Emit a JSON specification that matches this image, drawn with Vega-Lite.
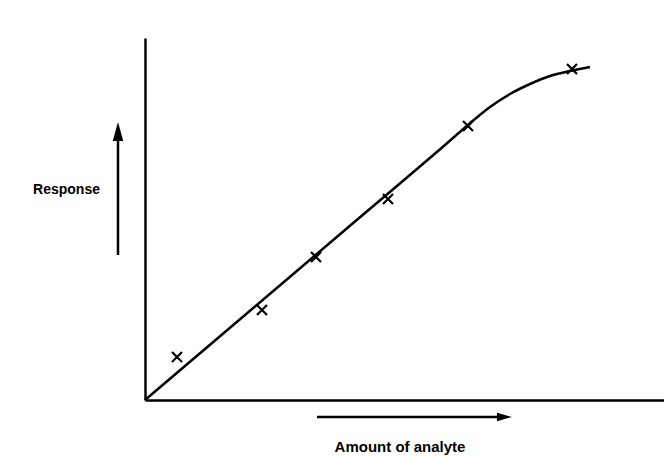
{
  "$schema": "https://vega.github.io/schema/vega-lite/v6.json",
  "width": 519,
  "height": 362,
  "autosize": "none",
  "padding": {"left": 145, "top": 38, "right": 0, "bottom": 57},
  "background": "white",
  "config": {"view": {"stroke": null}},
  "datasets": {
    "curve": [
      {"x": 0, "y": 0}, {"x": 100, "y": 85}, {"x": 200, "y": 170}, {"x": 300, "y": 255},
      {"x": 330, "y": 281}, {"x": 345, "y": 293}, {"x": 365, "y": 306}, {"x": 385, "y": 316},
      {"x": 405, "y": 324}, {"x": 425, "y": 329}, {"x": 445, "y": 333}
    ],
    "points": [
      {"x": 32, "y": 43}, {"x": 117, "y": 90}, {"x": 171, "y": 143},
      {"x": 243, "y": 201}, {"x": 323, "y": 274}, {"x": 427, "y": 331}
    ],
    "vshaft": [{"x": -27, "y": 145, "y2": 265}],
    "hshaft": [{"x": 172, "x2": 352, "y": -17}],
    "vhead": [{"x": -27, "y": 278}],
    "hhead": [{"x": 367, "y": -17}],
    "ylabel": [{"x": -45, "y": 210, "text": "Response"}],
    "xlabel": [{"x": 255, "y": -47, "text": "Amount of analyte"}]
  },
  "layer": [
    {
      "data": {"name": "curve"},
      "mark": {"type": "line", "color": "black", "strokeWidth": 2.5, "interpolate": "monotone"},
      "encoding": {
        "x": {"field": "x", "type": "quantitative", "scale": {"domain": [0, 519], "nice": false, "zero": false},
              "axis": {"labels": false, "ticks": false, "grid": false, "title": null, "domainColor": "black", "domainWidth": 2.5}},
        "y": {"field": "y", "type": "quantitative", "scale": {"domain": [0, 362], "nice": false, "zero": false},
              "axis": {"labels": false, "ticks": false, "grid": false, "title": null, "domainColor": "black", "domainWidth": 2.5}}
      }
    },
    {
      "data": {"name": "points"},
      "mark": {"type": "point", "shape": "M-1,-1L1,1M-1,1L1,-1", "filled": false, "color": "black", "strokeWidth": 2.2, "size": 100, "opacity": 1},
      "encoding": {
        "x": {"field": "x", "type": "quantitative"},
        "y": {"field": "y", "type": "quantitative"}
      }
    },
    {
      "data": {"name": "vshaft"},
      "mark": {"type": "rule", "color": "black", "strokeWidth": 2.5},
      "encoding": {
        "x": {"field": "x", "type": "quantitative"},
        "y": {"field": "y", "type": "quantitative"},
        "y2": {"field": "y2"}
      }
    },
    {
      "data": {"name": "hshaft"},
      "mark": {"type": "rule", "color": "black", "strokeWidth": 2.5},
      "encoding": {
        "x": {"field": "x", "type": "quantitative"},
        "x2": {"field": "x2"},
        "y": {"field": "y", "type": "quantitative"}
      }
    },
    {
      "data": {"name": "vhead"},
      "mark": {"type": "point", "shape": "M0,0L-1,3.6L1,3.6Z", "filled": true, "color": "black", "size": 110, "opacity": 1},
      "encoding": {
        "x": {"field": "x", "type": "quantitative"},
        "y": {"field": "y", "type": "quantitative"}
      }
    },
    {
      "data": {"name": "hhead"},
      "mark": {"type": "point", "shape": "M0,0L-3.6,-1L-3.6,1Z", "filled": true, "color": "black", "size": 70, "opacity": 1},
      "encoding": {
        "x": {"field": "x", "type": "quantitative"},
        "y": {"field": "y", "type": "quantitative"}
      }
    },
    {
      "data": {"name": "ylabel"},
      "mark": {"type": "text", "font": "Liberation Sans", "fontSize": 14, "fontWeight": "bold", "baseline": "middle", "align": "right", "color": "black"},
      "encoding": {
        "x": {"field": "x", "type": "quantitative"},
        "y": {"field": "y", "type": "quantitative"},
        "text": {"field": "text"}
      }
    },
    {
      "data": {"name": "xlabel"},
      "mark": {"type": "text", "font": "Liberation Sans", "fontSize": 15, "fontWeight": "bold", "baseline": "middle", "align": "center", "color": "black"},
      "encoding": {
        "x": {"field": "x", "type": "quantitative"},
        "y": {"field": "y", "type": "quantitative"},
        "text": {"field": "text"}
      }
    }
  ]
}
